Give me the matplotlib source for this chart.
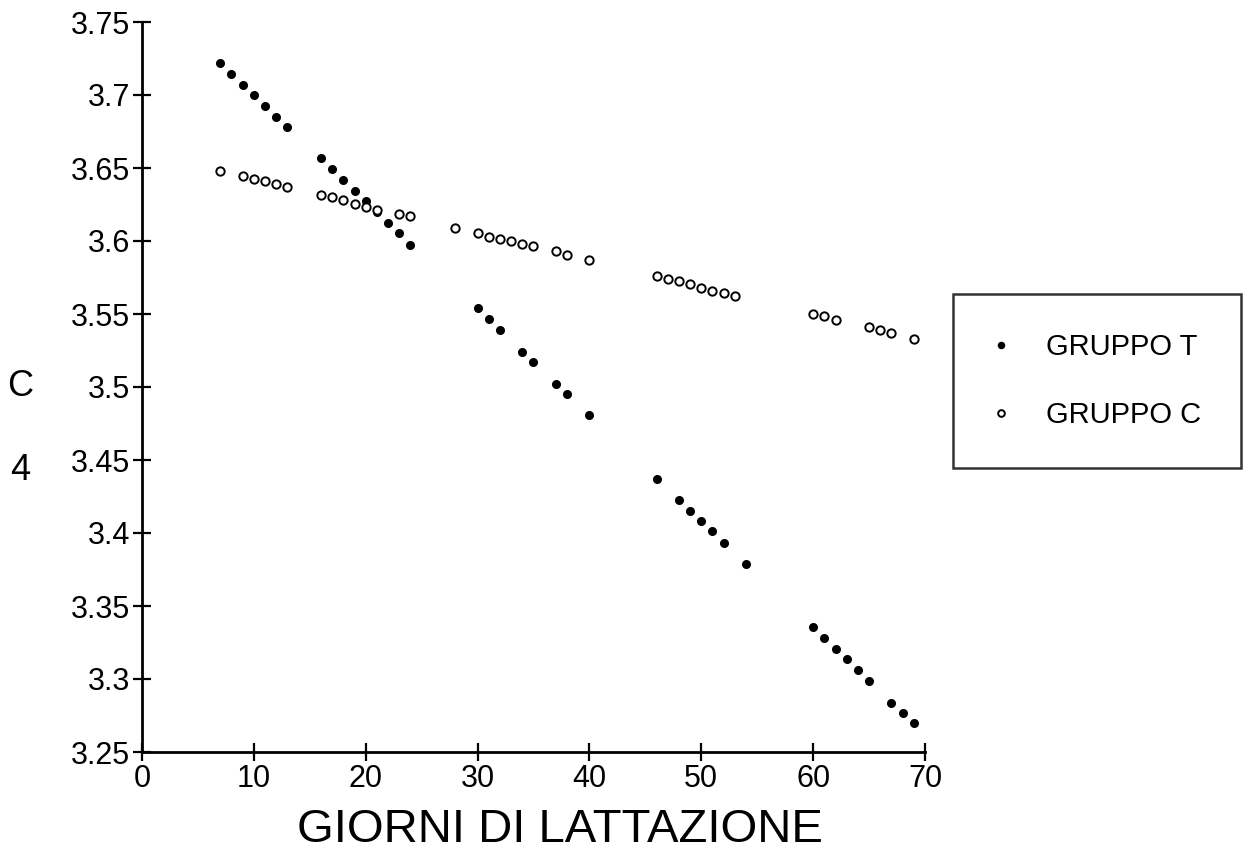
import matplotlib
matplotlib.use('Agg')
import matplotlib.pyplot as plt

plt.rcParams['font.family'] = ['Liberation Sans', 'DejaVu Sans']

# GRUPPO T (filled points)
days_t = [7, 8, 9, 10, 11, 12, 13, 16, 17, 18, 19, 20, 21, 22, 23, 24,
          30, 31, 32, 34, 35, 37, 38, 40, 46, 48, 49, 50, 51, 52, 54,
          60, 61, 62, 63, 64, 65, 67, 68, 69]
val_t = [3.7217, 3.7146, 3.7069, 3.700, 3.6923, 3.685, 3.678,
         3.6566, 3.649, 3.642, 3.6345, 3.6276, 3.6202, 3.6123, 3.6055, 3.5975,
         3.5539, 3.5468, 3.539, 3.5242, 3.5173, 3.5023, 3.4954, 3.4808,
         3.4372, 3.4228, 3.4149, 3.4082, 3.4012, 3.3932, 3.3786,
         3.3354, 3.3281, 3.3203, 3.3137, 3.3064, 3.2984, 3.2838, 3.2767, 3.2696]

# GRUPPO C (open points)
days_c = [7, 9, 10, 11, 12, 13, 16, 17, 18, 19, 20, 21, 23, 24,
          28, 30, 31, 32, 33, 34, 35, 37, 38, 40,
          46, 47, 48, 49, 50, 51, 52, 53, 60, 61, 62, 65, 66, 67, 69]
val_c = [3.6477, 3.6443, 3.6425, 3.6409, 3.6393, 3.6368,
         3.6315, 3.6299, 3.6281, 3.6256, 3.6233, 3.6212, 3.6187, 3.6169,
         3.6089, 3.6057, 3.603, 3.6016, 3.5998, 3.598, 3.5964, 3.593, 3.5904, 3.5868,
         3.5759, 3.574, 3.5725, 3.5708, 3.5678, 3.566, 3.5646, 3.5623,
         3.550, 3.5484, 3.5457, 3.5409, 3.539, 3.5372, 3.5331]

xticks = [0, 10, 20, 30, 40, 50, 60, 70]
yticks = [3.25, 3.3, 3.35, 3.4, 3.45, 3.5, 3.55, 3.6, 3.65, 3.7, 3.75]
yticklabels = ['3.25', '3.3', '3.35', '3.4', '3.45', '3.5', '3.55', '3.6', '3.65', '3.7', '3.75']

fig = plt.figure(figsize=(12.59, 8.57), dpi=100)
ax = fig.add_axes([142/1259, 1-752/857, 783/1259, 730/857])

ax.plot(days_t, val_t, linestyle='None', marker='o', ms=5.5, color='black',
        label='GRUPPO T')
ax.plot(days_c, val_c, linestyle='None', marker='o', ms=6, mew=1.4,
        mfc='white', mec='black', label='GRUPPO C')

ax.set_xlim(0, 70)
ax.set_ylim(3.25, 3.75)
ax.set_xticks(xticks)
ax.set_yticks(yticks)
ax.set_yticklabels(yticklabels)
for s in ['top', 'right']:
    ax.spines[s].set_visible(False)
for s in ['left', 'bottom']:
    ax.spines[s].set_linewidth(2)
ax.tick_params(direction='inout', length=13, width=1.6, labelsize=22, pad=2)

fig.text(560/1259, 1-830/857, 'GIORNI DI LATTAZIONE', fontsize=34,
         ha='center', va='center')
fig.text(20/1259, 1-387/857, 'C', fontsize=26, ha='center', va='center')
fig.text(20/1259, 1-470/857, '4', fontsize=26, ha='center', va='center')

leg = ax.legend(loc='upper left', bbox_to_anchor=(953/1259, 1-294/857),
                bbox_transform=fig.transFigure, fontsize=21, frameon=True,
                fancybox=False, edgecolor='black', borderpad=1.35,
                labelspacing=1.35, handlelength=0.6, handletextpad=1.25,
                borderaxespad=0, markerscale=0.8)
leg.get_frame().set_linewidth(1.8)

fig.savefig('out.png', dpi=100)
